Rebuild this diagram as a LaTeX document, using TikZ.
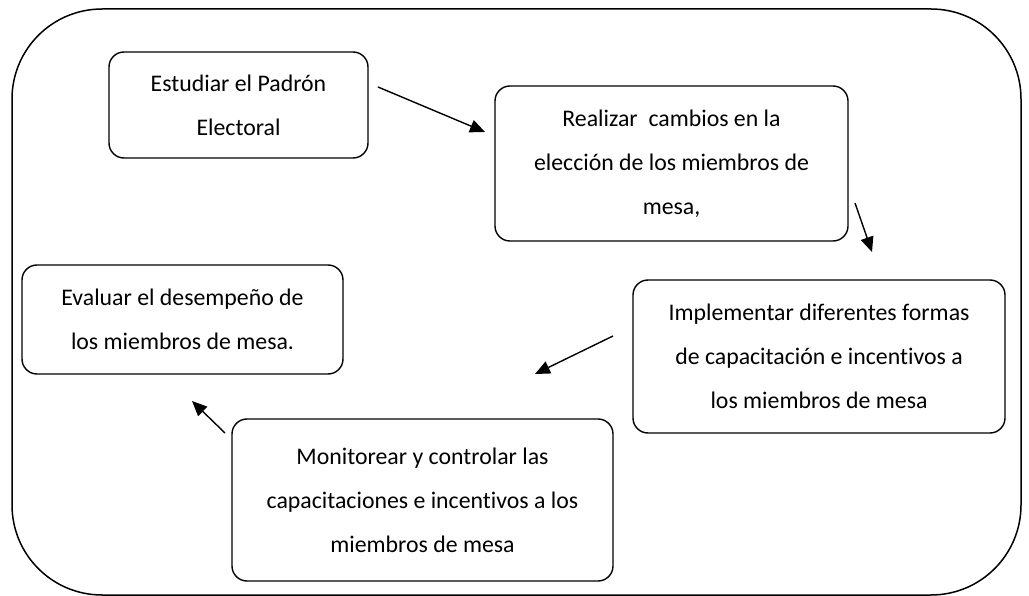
\documentclass[tikz,border=0pt]{standalone}
\usepackage{fontspec}
\setmainfont{Carlito}[Ligatures={NoCommon}]
\usetikzlibrary{arrows.meta}
\begin{document}
\begin{tikzpicture}[x=1pt,y=-1pt,
  stepbox/.style={draw,line width=1.4pt,rounded corners=15pt,inner sep=0pt,align=center,
    font=\fontsize{23.8}{44}\selectfont},
  conn/.style={line width=1.4pt,-{Triangle[length=15pt,width=13pt]}}]
\useasboundingbox (0,0) rectangle (1029,596);
\draw[line width=1.5pt,rounded corners=90pt] (12,9) rectangle (1021,595);
\node[stepbox,minimum width=259pt,minimum height=106pt] (b1) at (238.5,105) {Estudiar el Padrón\\Electoral};
\node[stepbox,minimum width=353pt,minimum height=155pt] (b2) at (671.5,163.5) {Realizar\ \ cambios en la\\elección de los miembros de\\mesa,};
\node[stepbox,minimum width=372pt,minimum height=153pt] (b3) at (819,356.5) {Implementar diferentes formas\\de capacitación e incentivos a\\los miembros de mesa};
\node[stepbox,minimum width=321pt,minimum height=109pt] (b4) at (182.5,319.5) {Evaluar el desempeño de\\los miembros de mesa.};
\node[stepbox,minimum width=381pt,minimum height=162pt] (b5) at (422.5,500) {Monitorear y controlar las\\capacitaciones e incentivos a los\\miembros de mesa};
\coordinate (a1s) at (378,87);
\coordinate (a1e) at (485,132);
\coordinate (a2s) at (855,203);
\coordinate (a2e) at (872,252);
\coordinate (a3s) at (613,336);
\coordinate (a3e) at (535,374);
\coordinate (a4s) at (225,433);
\coordinate (a4e) at (192,401);
\draw[conn] (a1s) -- (a1e);
\draw[conn] (a2s) -- (a2e);
\draw[conn] (a3s) -- (a3e);
\draw[conn] (a4s) -- (a4e);
\end{tikzpicture}
\end{document}
